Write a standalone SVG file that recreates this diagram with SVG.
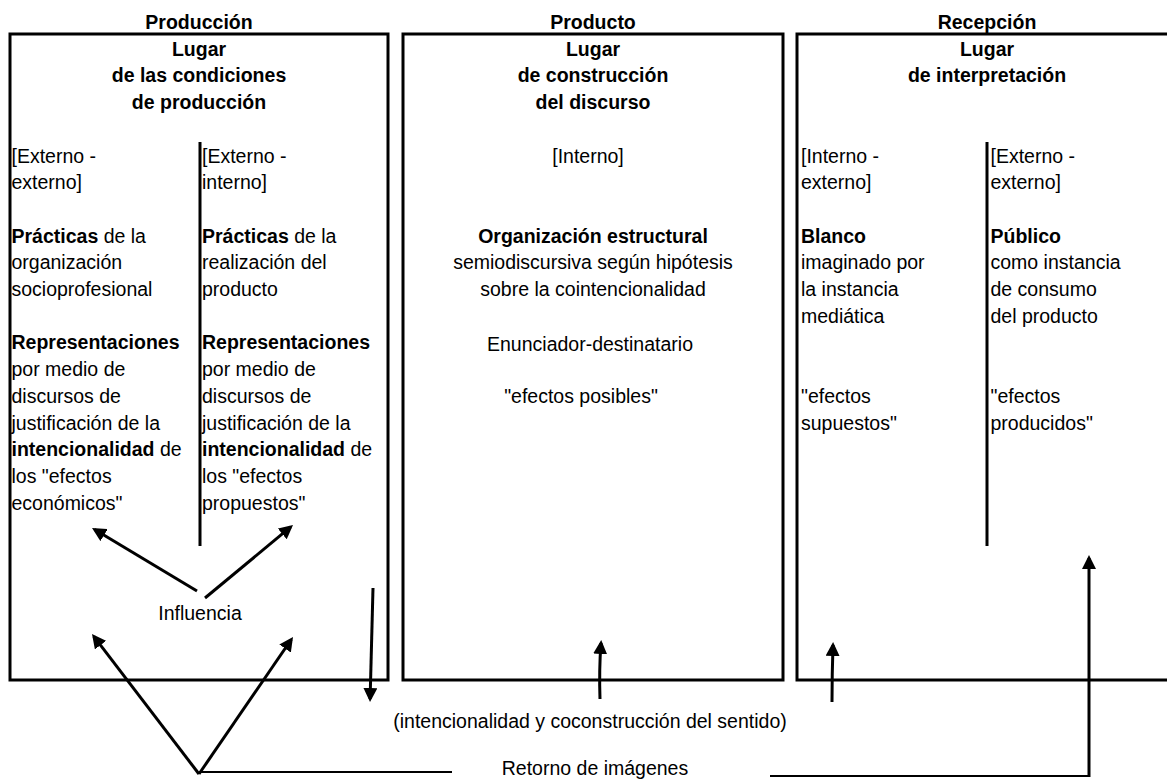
<svg xmlns="http://www.w3.org/2000/svg" width="1167" height="784" viewBox="0 0 1167 784">
<style>
text{font-family:"Liberation Sans",Arial,sans-serif;font-size:19.5px;fill:#000}
.b{font-weight:bold}
.c{text-anchor:middle}
.box{fill:none;stroke:#000;stroke-width:3}
.dv{stroke:#000;stroke-width:3}
.arr{fill:none;stroke:#000;stroke-width:3;marker-end:url(#ah)}
.ln{fill:none;stroke:#000;stroke-width:2}
</style>
<defs>
<marker id="ah" markerUnits="userSpaceOnUse" markerWidth="14" markerHeight="14" refX="11" refY="7" orient="auto"><path d="M0,0 L14,7 L0,14 z" fill="#000"/></marker>
</defs>
<rect x="0" y="0" width="1167" height="784" fill="#fff"/>

<g id="produccion">
<text class="b c" x="199" y="29">Producción</text>
<rect class="box" x="10" y="34" width="378" height="646"/>
<text class="b c" x="199" y="55.7">Lugar</text>
<text class="b c" x="199" y="82.4">de las condiciones</text>
<text class="b c" x="199" y="109.1">de producción</text>
<line class="dv" x1="200" y1="142" x2="200" y2="546"/>
<text x="11.5" y="162.5">[Externo -</text>
<text x="11.5" y="189.2">externo]</text>
<text x="11.5" y="242.6"><tspan class="b">Prácticas</tspan> de la</text>
<text x="11.5" y="269.3">organización</text>
<text x="11.5" y="296">socioprofesional</text>
<text x="11.5" y="349.4" class="b">Representaciones</text>
<text x="11.5" y="376.1">por medio de</text>
<text x="11.5" y="402.8">discursos de</text>
<text x="11.5" y="429.5">justificación de la</text>
<text x="11.5" y="456.2"><tspan class="b">intencionalidad</tspan> de</text>
<text x="11.5" y="482.9">los "efectos</text>
<text x="11.5" y="509.6">económicos"</text>
<text x="202" y="162.5">[Externo -</text>
<text x="202" y="189.2">interno]</text>
<text x="202" y="242.6"><tspan class="b">Prácticas</tspan> de la</text>
<text x="202" y="269.3">realización del</text>
<text x="202" y="296">producto</text>
<text x="202" y="349.4" class="b">Representaciones</text>
<text x="202" y="376.1">por medio de</text>
<text x="202" y="402.8">discursos de</text>
<text x="202" y="429.5">justificación de la</text>
<text x="202" y="456.2"><tspan class="b">intencionalidad</tspan> de</text>
<text x="202" y="482.9">los "efectos</text>
<text x="202" y="509.6">propuestos"</text>
<text class="c" x="200" y="620">Influencia</text>
</g>

<g id="producto">
<text class="b c" x="593" y="29">Producto</text>
<rect class="box" x="403" y="34" width="380" height="646"/>
<text class="b c" x="593" y="55.7">Lugar</text>
<text class="b c" x="593" y="82.4">de construcción</text>
<text class="b c" x="593" y="109.1">del discurso</text>
<text class="c" x="588" y="162.5">[Interno]</text>
<text class="b c" x="593" y="242.6">Organización estructural</text>
<text class="c" x="593" y="269.3">semiodiscursiva según hipótesis</text>
<text class="c" x="593" y="296">sobre la cointencionalidad</text>
<text class="c" x="590" y="351">Enunciador-destinatario</text>
<text class="c" x="581" y="402.8">"efectos posibles"</text>
</g>

<g id="recepcion">
<text class="b c" x="987" y="29">Recepción</text>
<rect class="box" x="797" y="34" width="380" height="646"/>
<text class="b c" x="987" y="55.7">Lugar</text>
<text class="b c" x="987" y="82.4">de interpretación</text>
<line class="dv" x1="987" y1="142" x2="987" y2="546"/>
<text x="801" y="162.5">[Interno -</text>
<text x="801" y="189.2">externo]</text>
<text x="801" y="242.6" class="b">Blanco</text>
<text x="801" y="269.3">imaginado por</text>
<text x="801" y="296">la instancia</text>
<text x="801" y="322.7">mediática</text>
<text x="801" y="402.8">"efectos</text>
<text x="801" y="429.5">supuestos"</text>
<text x="990.5" y="162.5">[Externo -</text>
<text x="990.5" y="189.2">externo]</text>
<text x="990.5" y="242.6" class="b">Público</text>
<text x="990.5" y="269.3">como instancia</text>
<text x="990.5" y="296">de consumo</text>
<text x="990.5" y="322.7">del producto</text>
<text x="990.5" y="402.8">"efectos</text>
<text x="990.5" y="429.5">producidos"</text>
</g>

<g id="labels">
<text class="c" x="590" y="728">(intencionalidad y coconstrucción del sentido)</text>
<text class="c" x="595" y="775">Retorno de imágenes</text>
</g>

<g id="connectors">
<line class="arr" x1="197" y1="591" x2="94.6" y2="529.5"/>
<line class="arr" x1="205" y1="598" x2="290.7" y2="526.9"/>
<line class="arr" x1="199" y1="774" x2="93.8" y2="636.4"/>
<line class="arr" x1="199" y1="774" x2="291.3" y2="639.5"/>
<line class="ln" x1="199" y1="772" x2="452" y2="772"/>
<line class="arr" x1="373" y1="588" x2="370.1" y2="699"/>
<path class="arr" d="M600,699 Q599,670 601,643"/>
<path class="arr" d="M832,702 Q832,675 833,645"/>
<polyline class="ln" points="770,776 1089,776"/>
<line class="arr" x1="1089" y1="777" x2="1089" y2="558"/>
</g>
</svg>
